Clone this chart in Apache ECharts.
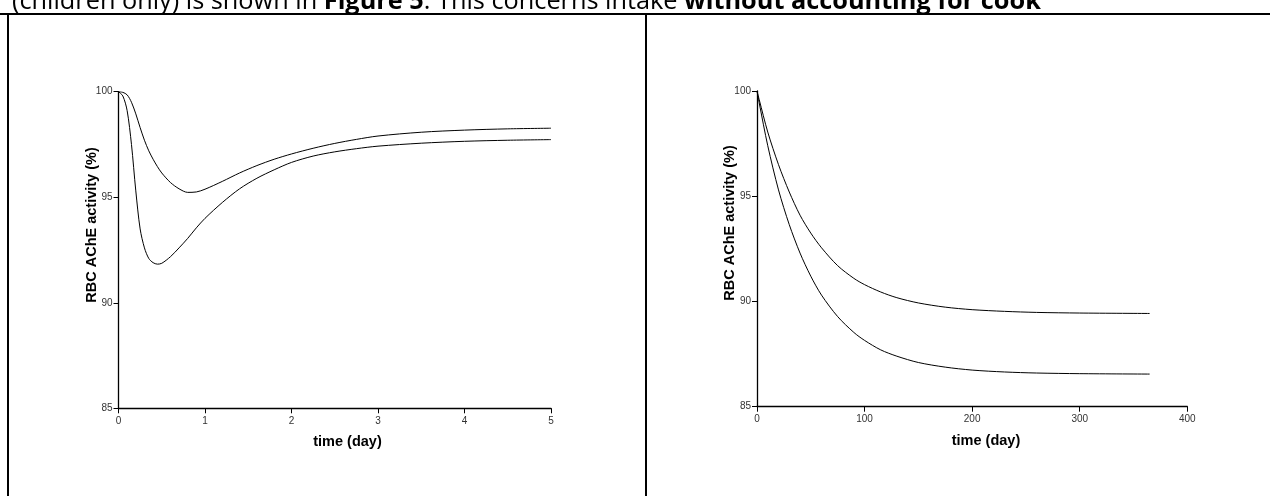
<!DOCTYPE html>
<html>
<head>
<meta charset="utf-8">
<script src="https://cdn.jsdelivr.net/npm/echarts@6/dist/echarts.min.js"></script>
<style>
html,body{margin:0;padding:0;background:#fff;}
#chart{width:1270px;height:496px;}
</style>
</head>
<body>
<div id="chart"></div>
<script>
// Left panel: short-term (days 0-5)
const leftTime  = [0,0.05,0.1,0.15,0.2,0.25,0.3,0.35,0.4,0.45,0.5,0.6,0.7,0.8,0.9,1.0,1.2,1.4,1.6,1.8,2.0,2.25,2.5,2.75,3.0,3.5,4.0,4.5,5.0];
const leftUpper = [100,99.97,99.85,99.5,98.95,98.3,97.7,97.2,96.8,96.45,96.15,95.7,95.4,95.23,95.25,95.38,95.75,96.15,96.5,96.8,97.05,97.32,97.55,97.74,97.9,98.08,98.18,98.24,98.27];
const leftLower = [100,99.8,99.1,97.5,95.3,93.5,92.6,92.1,91.9,91.83,91.87,92.18,92.6,93.05,93.55,94.0,94.75,95.4,95.9,96.3,96.65,96.95,97.15,97.3,97.42,97.56,97.65,97.7,97.73];

// Right panel: long-term (days 0-365)
const rightTime  = [0,2,10,20,30,40,50,60,75,90,100,115,130,150,175,200,230,260,300,365];
const rightUpper = [100,99.6,98.05,96.5,95.2,94.1,93.25,92.55,91.7,91.1,90.8,90.45,90.18,89.93,89.73,89.61,89.53,89.48,89.45,89.43];
const rightLower = [100,99.45,97.4,95.3,93.65,92.3,91.2,90.3,89.28,88.53,88.15,87.7,87.4,87.1,86.88,86.74,86.65,86.6,86.57,86.55];

// Axis settings
const leftXTicks  = {min:0, max:5, interval:1};
const rightXTicks = {min:0, max:400, interval:100};
const yTicks      = {min:85, max:100, interval:5};
const yName = 'RBC AChE activity (%)';
const xName = 'time (day)';

const chart = echarts.init(document.getElementById('chart'), null, {renderer:'canvas'});

function pairs(xs, ys){ return xs.map((x,i)=>[x, ys[i]]); }

const axisFont = 'Liberation Sans, Arial, sans-serif';
function xAx(grid, t){
  return {
    type:'value', gridIndex:grid, min:t.min, max:t.max, interval:t.interval,
    axisLine:{show:true, onZero:false, lineStyle:{color:'#000', width:1.3}},
    axisTick:{show:true, inside:false, length:5, lineStyle:{color:'#000', width:1}},
    axisLabel:{fontSize:10, color:'#333', margin:8, fontFamily:axisFont},
    splitLine:{show:false}
  };
}
function yAx(grid){
  return {
    type:'value', gridIndex:grid, min:yTicks.min, max:yTicks.max, interval:yTicks.interval,
    axisLine:{show:true, onZero:false, lineStyle:{color:'#000', width:1.3}},
    axisTick:{show:true, inside:false, length:5, lineStyle:{color:'#000', width:1}},
    axisLabel:{fontSize:10, color:'#333', margin:6, fontFamily:axisFont},
    splitLine:{show:false}
  };
}
function line(xi, yi, data){
  return {type:'line', xAxisIndex:xi, yAxisIndex:yi, data:data, showSymbol:false, smooth:0.3,
    lineStyle:{color:'#000', width:1}, silent:true, animation:false};
}

const nameFont = 'bold 14.5px "Liberation Sans", Arial, sans-serif';
const xNameFont = 'bold 14.5px "Liberation Sans", Arial, sans-serif';
const paraFont = '"Open Sans", "Noto Sans", sans-serif';

chart.setOption({
  animation:false,
  backgroundColor:'#fff',
  grid:[
    {left:118.5, top:91.7, width:432.5, height:316.6},
    {left:757, top:91, width:430.3, height:315.7}
  ],
  xAxis:[xAx(0,leftXTicks), xAx(1,rightXTicks)],
  yAxis:[yAx(0), yAx(1)],
  series:[
    line(0,0,pairs(leftTime,leftUpper)),
    line(0,0,pairs(leftTime,leftLower)),
    line(1,1,pairs(rightTime,rightUpper)),
    line(1,1,pairs(rightTime,rightLower))
  ],
  graphic:[
    // table borders
    {type:'line', shape:{x1:0,y1:14,x2:1270,y2:14}, style:{stroke:'#000', lineWidth:2}},
    {type:'line', shape:{x1:8,y1:14,x2:8,y2:496}, style:{stroke:'#000', lineWidth:2}},
    {type:'line', shape:{x1:646,y1:14,x2:646,y2:496}, style:{stroke:'#000', lineWidth:2}},
    // cut-off paragraph text above the table
    {type:'text', left:12, top:-11, style:{
      text:'{n|(children only) is shown in }{b|Figure 5}{n|. This concerns intake }{b|without accounting for cook}',
      rich:{
        n:{fontFamily:paraFont, fontSize:25.3, fill:'#000'},
        b:{fontFamily:paraFont, fontSize:25.3, fontWeight:'bold', fill:'#000'}
      }
    }},
    // y axis names
    {type:'text', x:92, y:225, rotation:Math.PI/2, style:{text:yName, font:nameFont, fill:'#000', textAlign:'center', textVerticalAlign:'middle'}},
    {type:'text', x:730, y:223, rotation:Math.PI/2, style:{text:yName, font:nameFont, fill:'#000', textAlign:'center', textVerticalAlign:'middle'}},
    // x axis names
    {type:'text', x:347.5, y:441.5, style:{text:xName, font:xNameFont, fill:'#000', textAlign:'center', textVerticalAlign:'middle'}},
    {type:'text', x:986, y:440.5, style:{text:xName, font:xNameFont, fill:'#000', textAlign:'center', textVerticalAlign:'middle'}}
  ]
});
</script>
</body>
</html>
